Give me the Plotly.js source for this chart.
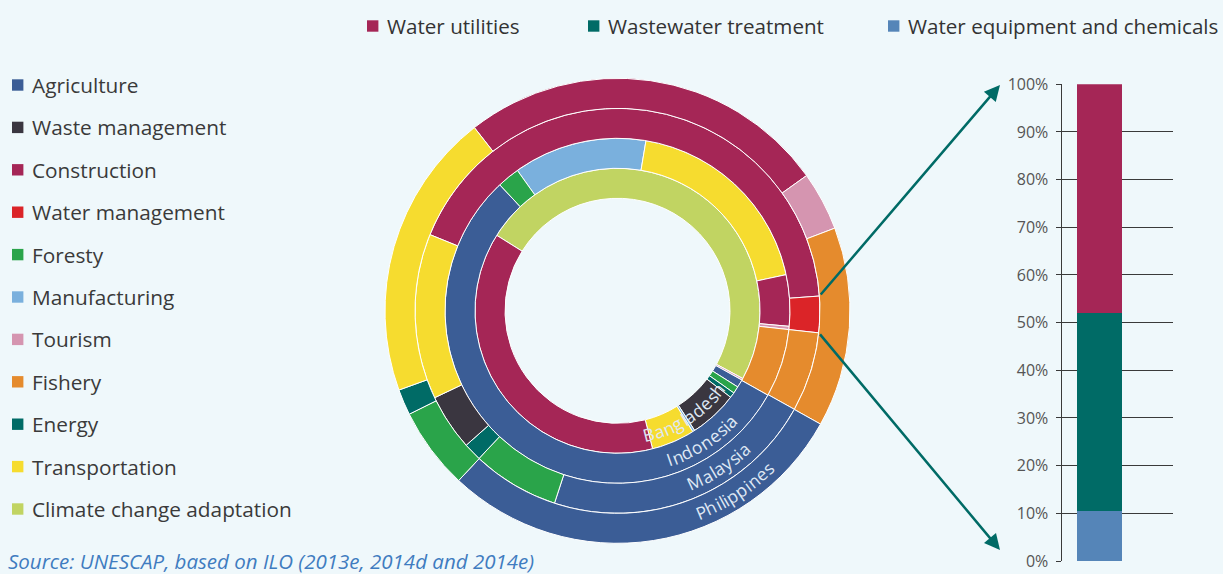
<!DOCTYPE html>
<html>
<head>
<meta charset="utf-8">
<script src="https://cdn.plot.ly/plotly-3.0.1.min.js"></script>
<style>
  html, body { margin: 0; padding: 0; background: #eff8fb; }
  #chart { width: 1223px; height: 574px; }
</style>
</head>
<body>
<div id="chart"></div>
<script>
// ---------------- DATA ----------------
const sectors = ['Agriculture', 'Waste management', 'Construction', 'Water management', 'Foresty',
  'Manufacturing', 'Tourism', 'Fishery', 'Energy', 'Transportation', 'Climate change adaptation'];

const countries = ['Bangladesh', 'Indonesia', 'Malaysia', 'Philippines'];

// shares of green jobs by sector (%), listed clockwise
const bangladeshSectors = ['Climate change adaptation', 'Tourism', 'Agriculture', 'Foresty', 'Energy',
  'Waste management', 'Manufacturing', 'Transportation', 'Construction'];
const bangladeshShares = [49.0, 0.2, 0.9, 0.8, 0.6, 5.5, 0.25, 4.9, 37.85];

const indonesiaSectors = ['Manufacturing', 'Transportation', 'Construction', 'Tourism', 'Fishery',
  'Agriculture', 'Foresty'];
const indonesiaShares = [12.5, 19.0, 4.8, 0.3, 6.4, 54.9, 2.1];

const malaysiaSectors = ['Construction', 'Water management', 'Fishery', 'Agriculture', 'Foresty',
  'Energy', 'Waste management', 'Transportation'];
const malaysiaShares = [42.7, 2.9, 6.35, 21.95, 6.95, 1.45, 4.5, 13.2];

const philippinesSectors = ['Construction', 'Tourism', 'Fishery', 'Agriculture', 'Foresty',
  'Energy', 'Transportation'];
const philippinesShares = [25.7, 4.1, 13.9, 28.9, 5.7, 1.8, 20.0];

// water management breakdown (stacked bar, %)
const waterSegments = ['Water utilities', 'Wastewater treatment', 'Water equipment and chemicals'];
const waterShares = [48.0, 41.5, 10.5];
const waterCategory = ['Water management'];

const sourceText = 'Source: UNESCAP, based on ILO (2013e, 2014d and 2014e)';

// ---------------- STYLE / LAYOUT ----------------
const sectorColors = {
  'Agriculture': '#3b5d96',
  'Waste management': '#3a3640',
  'Construction': '#a52656',
  'Water management': '#db2428',
  'Foresty': '#2aa44a',
  'Manufacturing': '#7ab0dd',
  'Tourism': '#d595b0',
  'Fishery': '#e58b2d',
  'Energy': '#006b66',
  'Transportation': '#f6dc2f',
  'Climate change adaptation': '#c1d462'
};
const waterColors = ['#a52656', '#006b66', '#5585b8'];

const W = 1223, H = 574;
const BG = '#eff8fb';
const FONT = 'Open Sans';
const cx = 617.5, cy = 310.8;
const ringInner = [112.5, 142.5, 172.5, 202.5];
const ringWidth = 30;
const ringStart = [302, 324.5, 292.1, 322];      // clockwise from 12 o'clock
const ringSectors = [bangladeshSectors, indonesiaSectors, malaysiaSectors, philippinesSectors];
const ringShares = [bangladeshShares, indonesiaShares, malaysiaShares, philippinesShares];

const px2x = px => px / W;
const px2y = py => 1 - py / H;
const normAngle = a => { let v = ((a % 360) + 360) % 360; return v > 180 ? v - 360 : v; };
const rad = d => d * Math.PI / 180;

const traces = [];
countries.forEach((c, i) => {
  const rIn = ringInner[i], rOut = rIn + ringWidth;
  traces.push({
    type: 'pie',
    name: c,
    labels: ringSectors[i],
    values: ringShares[i],
    sort: false,
    direction: 'clockwise',
    rotation: normAngle(ringStart[i]),
    hole: rIn / rOut,
    domain: { x: [px2x(cx - rOut), px2x(cx + rOut)], y: [px2y(cy + rOut), px2y(cy - rOut)] },
    marker: { colors: ringSectors[i].map(s => sectorColors[s]), line: { color: '#ffffff', width: 1 } },
    textinfo: 'none',
    hoverinfo: 'label+percent+name',
    showlegend: false
  });
});

// stacked bar (bottom segment first)
for (let j = waterSegments.length - 1; j >= 0; j--) {
  traces.push({
    type: 'bar',
    x: waterCategory,
    y: [waterShares[j]],
    name: waterSegments[j],
    marker: { color: waterColors[j], line: { width: 0 } },
    width: 0.8,
    showlegend: false,
    xaxis: 'x', yaxis: 'y'
  });
}

const annotations = [];
const shapes = [];

// left legend
const legTop = 85, legStep = 42.4, sq = 11.4;
sectors.forEach((s, i) => {
  const yc = legTop + i * legStep;
  shapes.push({ type: 'rect', xref: 'paper', yref: 'paper',
    x0: px2x(12), x1: px2x(12 + sq), y0: px2y(yc + sq / 2), y1: px2y(yc - sq / 2),
    fillcolor: sectorColors[s], line: { width: 0 } });
  annotations.push({ xref: 'paper', yref: 'paper', x: px2x(30), y: px2y(yc),
    xanchor: 'left', yanchor: 'middle', showarrow: false, text: s,
    font: { family: FONT, size: 20.8, color: '#3a3a3a' } });
});

// top legend
const topLegX = [367, 588, 888], topLegY = 26;
waterSegments.forEach((s, j) => {
  shapes.push({ type: 'rect', xref: 'paper', yref: 'paper',
    x0: px2x(topLegX[j]), x1: px2x(topLegX[j] + sq), y0: px2y(topLegY + sq / 2), y1: px2y(topLegY - sq / 2),
    fillcolor: waterColors[j], line: { width: 0 } });
  annotations.push({ xref: 'paper', yref: 'paper', x: px2x(topLegX[j] + 18), y: px2y(topLegY),
    xanchor: 'left', yanchor: 'middle', showarrow: false, text: s,
    font: { family: FONT, size: 20.6, color: '#333333' } });
});

// curved country labels
const ctx = document.createElement('canvas').getContext('2d');
const labelSize = 17.5;
ctx.font = labelSize + 'px "' + FONT + '"';
const labelTheta = 147;
countries.forEach((c, i) => {
  const r = ringInner[i] + ringWidth / 2;
  const L = ctx.measureText(c).width;
  for (let k = 0; k < c.length; k++) {
    const a = ctx.measureText(c.slice(0, k)).width;
    const b = ctx.measureText(c.slice(0, k + 1)).width;
    const s = (a + b) / 2;
    const th = labelTheta + (L / 2 - s) / r * 180 / Math.PI;
    const x = cx + r * Math.sin(rad(th));
    const y = cy - r * Math.cos(rad(th));
    annotations.push({ xref: 'paper', yref: 'paper', x: px2x(x), y: px2y(y),
      xanchor: 'center', yanchor: 'middle', showarrow: false, text: c[k],
      textangle: th - 180,
      font: { family: FONT, size: labelSize, color: '#dfe8f4' } });
  }
});

// arrows from the water management slice (Malaysia ring) to the bar
const mIdx = 2;
const wmPos = malaysiaSectors.indexOf('Water management');
const cumBefore = malaysiaShares.slice(0, wmPos).reduce((p, v) => p + v, 0);
const totalM = malaysiaShares.reduce((p, v) => p + v, 0);
const thA = ringStart[mIdx] + 360 * cumBefore / totalM;
const thB = thA + 360 * malaysiaShares[wmPos] / totalM;
const rEdge = ringInner[mIdx] + ringWidth;
const tails = [thA, thB].map(t => [cx + rEdge * Math.sin(rad(t)), cy - rEdge * Math.cos(rad(t))]);
const tips = [[1000, 85], [1000, 550]];
tails.forEach((t, k) => {
  annotations.push({ xref: 'paper', yref: 'paper', x: px2x(tips[k][0]), y: px2y(tips[k][1]),
    ax: t[0] - tips[k][0], ay: t[1] - tips[k][1], axref: 'pixel', ayref: 'pixel',
    showarrow: true, arrowhead: 2, arrowsize: 1.25, arrowwidth: 2.5, arrowcolor: '#006b66', text: '' });
});

// source
annotations.push({ xref: 'paper', yref: 'paper', x: px2x(6), y: px2y(561),
  xanchor: 'left', yanchor: 'middle', showarrow: false, text: '<i>' + sourceText + '</i>',
  font: { family: FONT, size: 20.5, color: '#3f7cc0' } });

const layout = {
  width: W, height: H,
  margin: { l: 0, r: 0, t: 0, b: 0, pad: 0 },
  paper_bgcolor: BG, plot_bgcolor: BG,
  showlegend: false,
  bargap: 0,
  barmode: 'stack',
  xaxis: { domain: [px2x(1061.7), px2x(1172.7)], type: 'category', range: [-0.672, 1.301],
    showticklabels: false, showgrid: false, zeroline: false, showline: false, ticks: '', fixedrange: true },
  yaxis: { domain: [px2y(561), px2y(84.3)], range: [0, 100], dtick: 10, ticksuffix: '%',
    showgrid: true, gridcolor: '#3a3a3a', gridwidth: 1.3, zeroline: false,
    showline: true, linecolor: '#3a3a3a', linewidth: 1.3, ticks: 'outside', ticklen: 5,
    tickcolor: '#3a3a3a', tickwidth: 1.3, ticklabelstandoff: 4, ticklabeloverflow: 'allow',
    tickfont: { family: FONT, size: 16, color: '#555555' }, fixedrange: true, anchor: 'x' },
  shapes: shapes,
  annotations: annotations
};

Plotly.newPlot('chart', traces, layout, { displayModeBar: false, staticPlot: false });
</script>
</body>
</html>
